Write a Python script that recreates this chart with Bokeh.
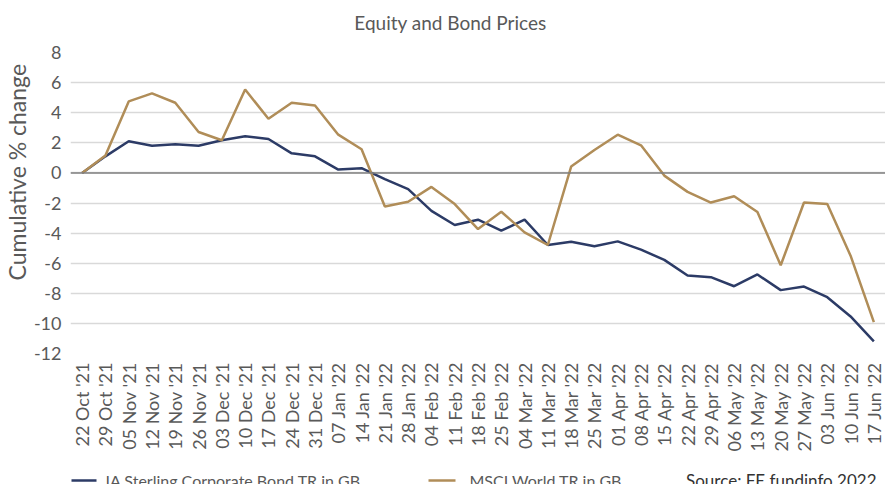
from bokeh.plotting import figure
from bokeh.models import FactorRange, Span, Label, FixedTicker, Title
from bokeh.layouts import column
from bokeh.embed import file_html
from bokeh.resources import INLINE
import math

dates = ["22 Oct '21", "29 Oct '21", "05 Nov '21", "12 Nov '21", "19 Nov '21", "26 Nov '21",
         "03 Dec '21", "10 Dec '21", "17 Dec '21", "24 Dec '21", "31 Dec '21", "07 Jan '22",
         "14 Jan '22", "21 Jan '22", "28 Jan '22", "04 Feb '22", "11 Feb '22", "18 Feb '22",
         "25 Feb '22", "04 Mar '22", "11 Mar '22", "18 Mar '22", "25 Mar '22", "01 Apr '22",
         "08 Apr '22", "15 Apr '22", "22 Apr '22", "29 Apr '22", "06 May '22", "13 May '22",
         "20 May '22", "27 May '22", "03 Jun '22", "10 Jun '22", "17 Jun '22"]

bond = [0, 1.1, 2.1, 1.81, 1.9, 1.81, 2.17, 2.43, 2.25, 1.3, 1.1, 0.22, 0.31, -0.42, -1.08,
        -2.52, -3.46, -3.11, -3.84, -3.11, -4.79, -4.57, -4.88, -4.55, -5.1, -5.78, -6.82,
        -6.93, -7.53, -6.75, -7.79, -7.55, -8.26, -9.54, -11.19]

msci = [0, 1.15, 4.75, 5.28, 4.66, 2.72, 2.17, 5.54, 3.6, 4.66, 4.48, 2.54, 1.57, -2.23, -1.92,
        -0.93, -2.07, -3.73, -2.58, -3.95, -4.79, 0.42, 1.52, 2.54, 1.83, -0.18, -1.26, -1.97,
        -1.55, -2.6, -6.14, -1.97, -2.07, -5.5, -9.91]

y_ticks = [-12, -10, -8, -6, -4, -2, 0, 2, 4, 6, 8]
y_tick_labels = ["-12", "-10", "-8", "-6", "-4", "-2", "0", "2", "4", "6", "8"]

series_names = ["IA Sterling Corporate Bond TR in GB", "MSCI World TR in GB"]
title_text = "Equity and Bond Prices"
y_label_text = "Cumulative % change"
source_text = "Source: FE fundinfo 2022"

FONT = "Lato"
GREY = "#595959"
NAVY = "#2C3B66"
GOLD = "#B08D58"
series_colors = [NAVY, GOLD]

W = 885
H_TOP = 42
H_MAIN = 412
H_LEG = 30
LEFT = 70


def strip(height):
    """A blank strip whose frame is aligned with the chart frame; data units = page px."""
    s = figure(width=W, height=height, x_range=(LEFT, W), y_range=(0, height),
               output_backend="svg", toolbar_location=None, x_axis_location=None,
               y_axis_location=None, min_border=0, min_border_left=LEFT, min_border_right=0,
               min_border_top=0, min_border_bottom=0)
    s.outline_line_color = None
    s.xgrid.grid_line_color = None
    s.ygrid.grid_line_color = None
    s.background_fill_color = "white"
    s.border_fill_color = "white"
    return s


# title strip
t = strip(H_TOP)
t.add_layout(Label(x=450, y=H_TOP - 22, text=title_text, text_align="center",
                   text_baseline="middle", text_font=FONT, text_font_size="19px",
                   text_color=GREY))

# main chart
p = figure(width=W, height=H_MAIN, x_range=FactorRange(factors=dates, range_padding=0),
           y_range=(-12, 8), output_backend="svg", toolbar_location=None,
           min_border_left=LEFT, min_border_right=0, min_border_top=52 - H_TOP,
           min_border_bottom=100)
p.outline_line_color = None
p.background_fill_color = "white"
p.border_fill_color = "white"

p.xgrid.grid_line_color = None
p.ygrid.grid_line_color = "#D9D9D9"
p.ygrid.grid_line_width = 1.5

p.yaxis.ticker = FixedTicker(ticks=y_ticks)
p.yaxis.major_label_overrides = {t_: l for t_, l in zip(y_ticks, y_tick_labels)}
for ax in (p.xaxis, p.yaxis):
    ax.axis_line_color = None
    ax.major_tick_line_color = None
    ax.minor_tick_line_color = None
    ax.major_tick_out = 0
    ax.major_tick_in = 0
    ax.major_label_text_font = FONT
    ax.major_label_text_color = GREY
p.yaxis.major_label_text_font_size = "18px"
p.yaxis.major_label_standoff = 9
p.xaxis.major_label_text_font_size = "18px"
p.xaxis.major_label_orientation = math.pi / 2
p.xaxis.major_label_standoff = 9

p.add_layout(Title(text=y_label_text, align="left", offset=73, standoff=0,
                   text_font=FONT, text_font_size="23px", text_font_style="normal",
                   text_color=GREY), "left")

p.add_layout(Span(location=0, dimension="width", line_color="#7F7F7F", line_width=1.5))

p.line(dates, bond, line_color=NAVY, line_width=2.5)
p.line(dates, msci, line_color=GOLD, line_width=2.5)

# key strip below the chart
q = strip(H_LEG)
key_y = 4
swatch_x0 = [71, 428]
swatch_x1 = [96, 455]
label_x = [105, 469]
q.segment(x0=swatch_x0, y0=[key_y] * 2, x1=swatch_x1, y1=[key_y] * 2,
          line_color=series_colors, line_width=2.5)
q.text(x=label_x, y=[key_y] * 2, text=series_names, text_baseline="middle",
       text_align="left", text_font={"value": FONT}, text_font_size={"value": "16px"},
       text_color=GREY)
q.add_layout(Label(x=876, y=key_y, text=source_text, text_align="right", text_baseline="middle",
                   text_font=FONT, text_font_size="17px", text_color="#333333"))

open("out.html", "w").write(file_html(column(t, p, q), INLINE))
